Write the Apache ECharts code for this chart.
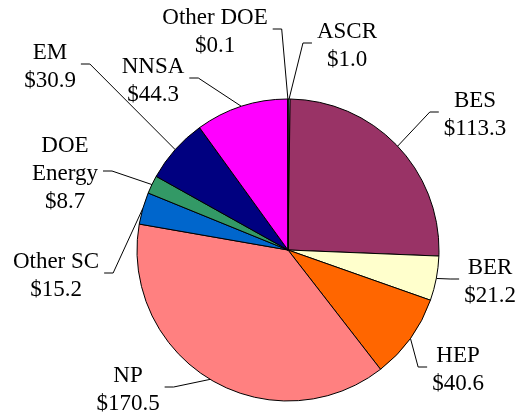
<!DOCTYPE html>
<html><head><meta charset="utf-8">
<script src="https://cdn.jsdelivr.net/npm/echarts@6/dist/echarts.min.js"></script>
<style>html,body{margin:0;padding:0;background:#fff}#c{width:525px;height:414px}</style>
</head><body><div id="c"></div>
<script>
const categories = ['ASCR','BES','BER','HEP','NP','Other SC','DOE Energy','EM','NNSA','Other DOE'];
const values = [1.0,113.3,21.2,40.6,170.5,15.2,8.7,30.9,44.3,0.1];
const labelNames = ['ASCR','BES','BER','HEP','NP','Other SC','DOE\nEnergy','EM','NNSA','Other DOE'];
const colors = ['#CCECFF','#993366','#FFFFCC','#FF6600','#FF8080','#0066CC','#339966','#000080','#FF00FF','#FFFF00'];
// label layout: centre of each label block and the side its leader line attaches to
const labelPos = [[347,46,'left'],[475,115,'left'],[490,282,'left'],[458,370,'left'],[128,390,'right'],[56,276,'right'],[65,174,'right'],[50,67,'right'],[153,81,'right'],[215,32,'right']];
const CX = 288, CY = 250, R = 151;

const total = values.reduce((a, b) => a + b, 0);
const midAngles = [];
let acc = 0;
values.forEach(v => { midAngles.push((acc + v / 2) / total * 2 * Math.PI); acc += v; });

const chart = echarts.init(document.getElementById('c'), null, {renderer:'canvas'});
chart.setOption({
  animation: false,
  backgroundColor: '#fff',
  series: [{
    type: 'pie',
    center: [CX, CY],
    radius: R,
    startAngle: 90,
    clockwise: true,
    avoidLabelOverlap: false,
    data: categories.map((c, i) => ({name: c, value: values[i], itemStyle: {color: colors[i]}})),
    itemStyle: {borderColor: '#000', borderWidth: 1},
    emphasis: {disabled: true},
    label: {
      show: true,
      position: 'outside',
      overflow: 'none',
      fontFamily: '"Liberation Serif","Times New Roman",serif',
      fontSize: 23,
      lineHeight: 28,
      color: '#000',
      formatter: p => labelNames[p.dataIndex] + '\n$' + p.value.toFixed(1)
    },
    labelLine: {show: true, length: 10, length2: 10, smooth: false, lineStyle: {color: '#000', width: 1}},
    labelLayout: function (p) {
      const i = p.dataIndex;
      const pos = labelPos[i];
      const w = p.labelRect.width;
      const left = pos[2] === 'left';
      const ax = left ? pos[0] - w / 2 - 5 : pos[0] + w / 2 + 5;
      const ay = pos[1] - 3;
      const ex = left ? ax - 9 : ax + 9;
      const a = midAngles[i];
      const start = [CX + R * Math.sin(a), CY - R * Math.cos(a)];
      return {x: pos[0], y: pos[1], align: 'center', verticalAlign: 'middle', labelLinePoints: [start, [ex, ay], [ax, ay]]};
    }
  }]
});
</script></body></html>
